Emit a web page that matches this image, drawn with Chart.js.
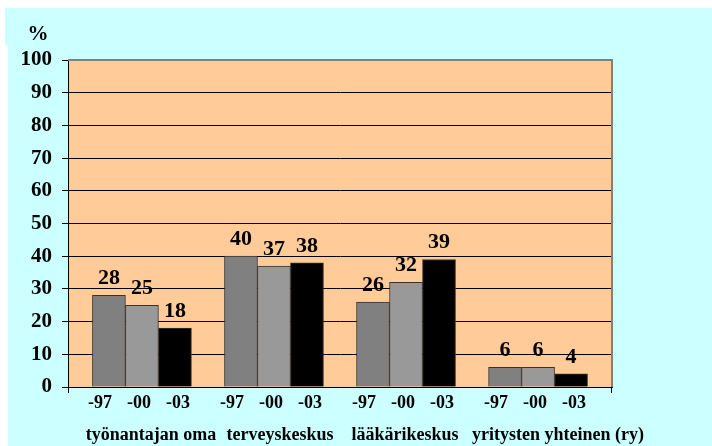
<!DOCTYPE html>
<html><head><meta charset="utf-8">
<script src="https://cdn.jsdelivr.net/npm/chart.js@4.4.0/dist/chart.umd.min.js"></script>
<style>html,body{margin:0;padding:0;background:#fff;} #wrap{width:712px;height:446px;position:relative;}</style>
</head><body><div id="wrap"><canvas id="c" width="712" height="446"></canvas></div>
<script>
// ---- data ----
const groups = ['työnantajan oma', 'terveyskeskus', 'lääkärikeskus', 'yritysten yhteinen (ry)'];
const years = ['-97', '-00', '-03'];
const values97 = [28, 40, 26, 6];
const values00 = [25, 37, 32, 6];
const values03 = [18, 38, 39, 4];
const unitLabel = '%';

// ---- styles / layout ----
const SERIF = '"Liberation Serif", "Times New Roman", Times, serif';
const barColors = ['#808080', '#999999', '#000000'];
const groupShift = [9, 6, -1, 20];
const yearSpacing = 39, yearShift = -3;
const xPad = 0.06;

const series = [values97, values00, values03];

const deco = {
  id: 'deco',
  beforeDraw(chart) {
    const {ctx, chartArea: a} = chart;
    ctx.save();
    ctx.fillStyle = '#CCFFFF';
    ctx.fillRect(5, 8, 707, 37);
    ctx.fillRect(8, 45, 704, 401);
    ctx.fillStyle = '#FFCC99';
    ctx.fillRect(a.left, a.top, a.right - a.left, a.bottom - a.top);
    ctx.restore();
  },
  afterDraw(chart) {
    const {ctx, chartArea: a, scales: {x}} = chart;
    ctx.save();
    ctx.strokeStyle = '#808080'; ctx.lineWidth = 2;
    ctx.beginPath();
    ctx.moveTo(a.left, a.top); ctx.lineTo(a.right, a.top); ctx.lineTo(a.right, a.bottom);
    ctx.stroke();
    ctx.strokeStyle = '#000'; ctx.lineWidth = 1;
    ctx.beginPath();
    ctx.moveTo(Math.round(a.left) + 0.5, a.bottom); ctx.lineTo(Math.round(a.left) + 0.5, a.bottom + 6);
    ctx.moveTo(Math.round(a.right) - 0.5, a.bottom); ctx.lineTo(Math.round(a.right) - 0.5, a.bottom + 6);
    ctx.stroke();

    ctx.fillStyle = '#000'; ctx.textAlign = 'center'; ctx.textBaseline = 'alphabetic';
    ctx.font = 'bold 22px ' + SERIF;
    chart.data.datasets.forEach((ds, di) => {
      chart.getDatasetMeta(di).data.forEach((el, i) => {
        ctx.fillText(String(series[di][i]), el.x, el.y - 11);
      });
    });
    ctx.font = 'bold 18px ' + SERIF;
    groups.forEach((g, i) => {
      const cx = x.getPixelForValue(i);
      years.forEach((yr, j) => {
        ctx.fillText(yr, cx + (j - 1) * yearSpacing + yearShift, a.bottom + 21);
      });
      ctx.fillText(g, cx + groupShift[i], a.bottom + 53);
    });
    ctx.font = 'bold 21px ' + SERIF;
    ctx.fillText(unitLabel, 38, 40);
    ctx.restore();
  }
};

new Chart(document.getElementById('c'), {
  type: 'bar',
  data: {
    datasets: years.map((yr, j) => ({
      label: yr,
      data: series[j].map((v, i) => ({x: i, y: v})),
      backgroundColor: barColors[j],
      borderColor: '#333',
      borderWidth: 1,
      barThickness: 33
    }))
  },
  options: {
    responsive: false,
    animation: false,
    devicePixelRatio: 1,
    layout: {padding: {left: 0, top: 60, right: 100, bottom: 0}},
    plugins: {legend: {display: false}, tooltip: {enabled: false}},
    scales: {
      x: {
        type: 'linear',
        offset: false,
        min: -0.5 - xPad, max: groups.length - 0.5 + xPad,
        grid: {display: false},
        ticks: {display: false},
        border: {display: true, color: '#000', width: 1},
        afterFit: s => { s.height = 59; }
      },
      y: {
        min: 0, max: 100,
        ticks: {stepSize: 10, color: '#000', padding: 10, font: {family: SERIF, size: 21, weight: 'bold'}},
        grid: {color: '#000', lineWidth: 1, tickLength: 6},
        border: {display: true, color: '#000', width: 1},
        afterFit: s => { s.width = 68; }
      }
    }
  },
  plugins: [deco]
});
</script>
</body></html>
